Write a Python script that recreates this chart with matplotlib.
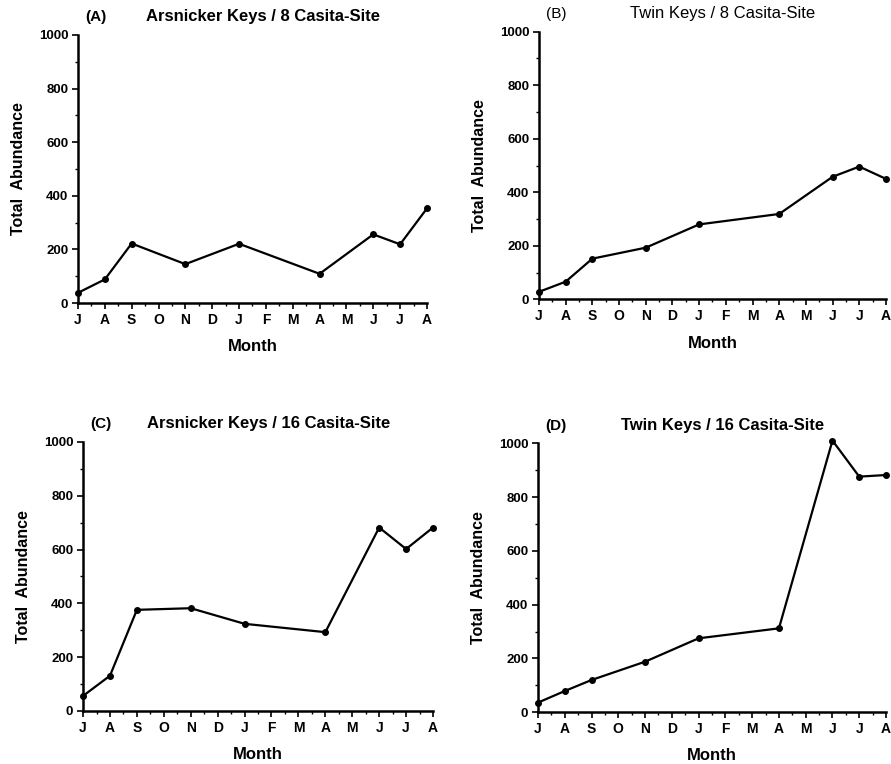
import matplotlib
matplotlib.use("Agg")
import matplotlib.pyplot as plt
from matplotlib.ticker import MultipleLocator

# ======== Dados =========
meses = ["J", "A", "S", "O", "N", "D", "J", "F", "M", "A", "M", "J", "J", "A"]

# indices dos meses amostrados (J A S N J A J J A)
idx_amostras = [0, 1, 2, 4, 6, 9, 11, 12, 13]

arsnicker_8 = [38, 88, 222, 145, 221, 109, 256, 219, 353]
twin_8 = [28, 66, 152, 193, 280, 319, 458, 496, 450]
arsnicker_16 = [56, 131, 376, 382, 324, 293, 682, 602, 682]
twin_16 = [36, 79, 120, 188, 275, 312, 1010, 876, 882]

paineis = [
    ("(A)", "Arsnicker Keys / 8 Casita-Site", arsnicker_8, [0.0875, 0.6034, 0.3917, 0.3508], "bold"),
    ("(B)", "Twin Keys / 8 Casita-Site", twin_8, [0.6049, 0.6082, 0.3895, 0.3503], "normal"),
    ("(C)", "Arsnicker Keys / 16 Casita-Site", arsnicker_16, [0.0932, 0.0694, 0.3928, 0.3521], "bold"),
    ("(D)", "Twin Keys / 16 Casita-Site", twin_16, [0.6038, 0.0677, 0.3906, 0.3521], "bold"),
]

plt.rcParams['font.family'] = ['Liberation Sans', 'DejaVu Sans']
plt.rcParams['font.weight'] = 'bold'

fig = plt.figure(figsize=(8.91, 7.64), dpi=100)

for letra, titulo, valores, ret, peso in paineis:
    ax = fig.add_axes(ret)
    ax.plot(idx_amostras, valores, color="black", lw=1.6,
            marker="o", markersize=4, clip_on=False, zorder=3)

    ax.set_xlim(0, len(meses) - 1)
    ax.set_ylim(0, 1000)
    ax.set_xticks(range(len(meses)))
    ax.set_xticklabels(meses, fontsize=10, fontweight="bold")
    ax.xaxis.set_minor_locator(MultipleLocator(0.5))
    ax.set_yticks(range(0, 1001, 200))
    ax.set_yticklabels([str(v) for v in range(0, 1001, 200)], fontsize=9.5, fontweight="bold")
    ax.yaxis.set_minor_locator(MultipleLocator(100))

    for lado in ["top", "right"]:
        ax.spines[lado].set_visible(False)
    for lado in ["left", "bottom"]:
        ax.spines[lado].set_linewidth(1.8)

    ax.tick_params(axis="both", which="major", direction="out", length=4, width=1.2, pad=3)
    ax.tick_params(axis="both", which="minor", direction="out", length=2, width=1)

    ax.set_xlabel("Month", fontsize=12, fontweight="bold", labelpad=9)
    ax.set_ylabel("Total  Abundance", fontsize=11.5, fontweight="bold", labelpad=9)

    ax.text(0.05, 1.04, letra, transform=ax.transAxes, fontsize=11,
            fontweight=peso, ha="center", va="bottom")
    ax.text(0.53, 1.04, titulo, transform=ax.transAxes, fontsize=12,
            fontweight=peso, ha="center", va="bottom")

fig.savefig("out.png", dpi=100, facecolor="white")
